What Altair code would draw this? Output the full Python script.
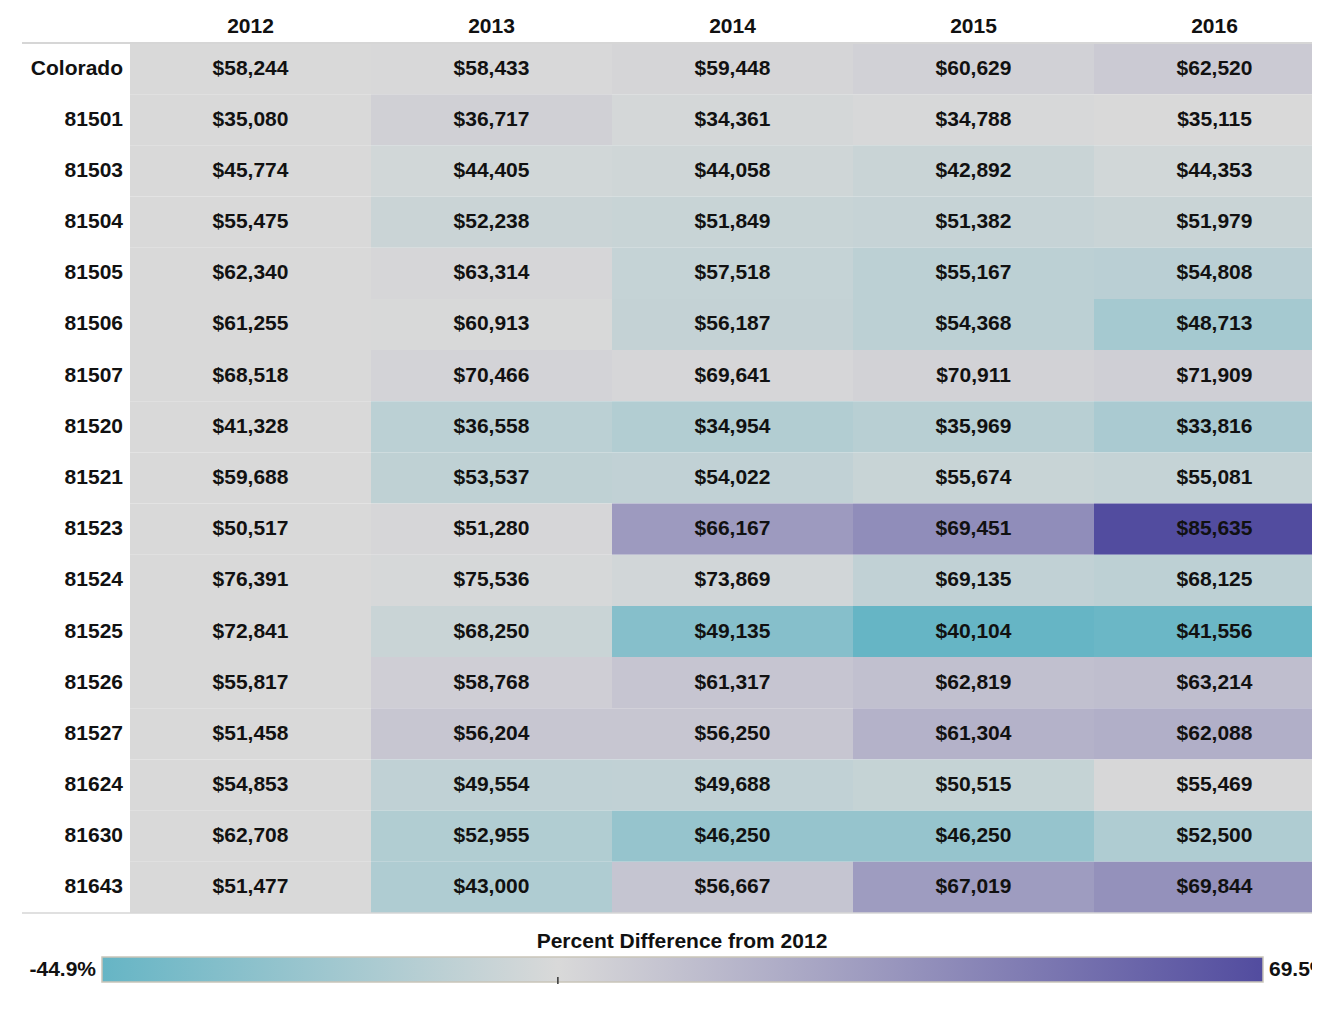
import altair as alt
import pandas as pd

rows = ["Colorado", "81501", "81503", "81504", "81505", "81506", "81507", "81520",
        "81521", "81523", "81524", "81525", "81526", "81527", "81624", "81630", "81643"]
years = ["2012", "2013", "2014", "2015", "2016"]

v2012 = [58244, 35080, 45774, 55475, 62340, 61255, 68518, 41328, 59688, 50517, 76391, 72841, 55817, 51458, 54853, 62708, 51477]
v2013 = [58433, 36717, 44405, 52238, 63314, 60913, 70466, 36558, 53537, 51280, 75536, 68250, 58768, 56204, 49554, 52955, 43000]
v2014 = [59448, 34361, 44058, 51849, 57518, 56187, 69641, 34954, 54022, 66167, 73869, 49135, 61317, 56250, 49688, 46250, 56667]
v2015 = [60629, 34788, 42892, 51382, 55167, 54368, 70911, 35969, 55674, 69451, 69135, 40104, 62819, 61304, 50515, 46250, 67019]
v2016 = [62520, 35115, 44353, 51979, 54808, 48713, 71909, 33816, 55081, 85635, 68125, 41556, 63214, 62088, 55469, 52500, 69844]
series = [v2012, v2013, v2014, v2015, v2016]

recs = []
for ci, (yr, vals) in enumerate(zip(years, series)):
    for r, v, base in zip(rows, vals, v2012):
        recs.append({"row": r, "year": yr, "col": ci, "col_end": ci + 1, "mid": ci + 0.5,
                     "value": v, "label": f"${v:,}", "pct": (v / base - 1) * 100})
df = pd.DataFrame(recs)
df_rows = pd.DataFrame({"row": rows})
df_years = pd.DataFrame({"year": years, "mid": [i + 0.5 for i in range(len(years))]})

lo = float(df["pct"].min())
hi = float(df["pct"].max())
legend_df = pd.DataFrame({"lo": [lo], "hi": [hi], "zero": [0.0],
                          "lo_label": [f"{lo:.1f}%"], "hi_label": [f"{hi:.1f}%"]})

TEAL, GRAY, PURPLE = "#66b5c5", "#d9d9d9", "#524c9f"
FONT = "Liberation Sans"
FS = 21
COL_W, LABEL_W, PLOT_W, PLOT_H = 241, 108, 1290, 870

x_scale = alt.Scale(domain=[-LABEL_W / COL_W, (PLOT_W - LABEL_W) / COL_W], nice=False, zero=False)
y_enc = alt.Y("row:N", sort=rows, scale=alt.Scale(paddingInner=0, paddingOuter=0), axis=None)
color_scale = alt.Scale(domain=[lo, 0, hi], range=[TEAL, GRAY, PURPLE], interpolate="rgb")

rects = alt.Chart(df).mark_rect(clip=True).encode(
    x=alt.X("col:Q", scale=x_scale, axis=None),
    x2="col_end:Q",
    y=y_enc,
    color=alt.Color("pct:Q", scale=color_scale, legend=None),
)
vals = alt.Chart(df).mark_text(font=FONT, fontSize=FS, fontWeight="bold", color="#111",
                               baseline="middle", align="center").encode(
    x=alt.X("mid:Q", scale=x_scale, axis=None), y=y_enc, text="label:N")
rowlabels = alt.Chart(df_rows).mark_text(font=FONT, fontSize=FS, fontWeight="bold", color="#111",
                                         baseline="middle", align="right", dx=-7).encode(
    x=alt.XDatum(0, scale=x_scale, axis=None), y=y_enc, text="row:N")
headers = alt.Chart(df_years).mark_text(font=FONT, fontSize=FS, fontWeight="bold", color="#111",
                                        baseline="middle", align="center").encode(
    x=alt.X("mid:Q", scale=x_scale, axis=None), y=alt.value(-16), text="year:N")
top_rule = alt.Chart(df_rows.head(1)).mark_rule(color="#d6d6d6", strokeWidth=2).encode(
    x=alt.value(0), x2=alt.value(PLOT_W), y=alt.value(0))
bot_rule = alt.Chart(df_rows.head(1)).mark_rule(color="#d6d6d6", strokeWidth=1.5).encode(
    x=alt.value(0), x2=alt.value(PLOT_W), y=alt.value(PLOT_H))

main = alt.layer(rects, vals, rowlabels, headers, top_rule, bot_rule)

mid_off = -lo / (hi - lo)
gradient = alt.LinearGradient(
    gradient="linear",
    stops=[alt.GradientStop(color=TEAL, offset=0),
           alt.GradientStop(color=GRAY, offset=mid_off),
           alt.GradientStop(color=PURPLE, offset=1)],
    x1=0, x2=1, y1=0, y2=0)
leg_scale = alt.Scale(domain=[lo, hi], range=[80, 1241], nice=False, zero=False)

grad = alt.Chart(legend_df).mark_rect(color=gradient, stroke="#c9c5b9", strokeWidth=1.5).encode(
    x=alt.X("lo:Q", scale=leg_scale, axis=None), x2="hi:Q",
    y=alt.value(914), y2=alt.value(939))
lo_txt = alt.Chart(legend_df).mark_text(font=FONT, fontSize=FS, fontWeight="bold", color="#111",
                                        align="right", baseline="middle", dx=-6).encode(
    x=alt.X("lo:Q", scale=leg_scale, axis=None), y=alt.value(926.5), text="lo_label:N")
hi_txt = alt.Chart(legend_df).mark_text(font=FONT, fontSize=FS, fontWeight="bold", color="#111",
                                        align="left", baseline="middle", dx=6).encode(
    x=alt.X("hi:Q", scale=leg_scale, axis=None), y=alt.value(926.5), text="hi_label:N")
tick = alt.Chart(legend_df).mark_rule(color="#333", strokeWidth=1.5).encode(
    x=alt.X("zero:Q", scale=leg_scale, axis=None), y=alt.value(934), y2=alt.value(941))
ltitle = alt.Chart(legend_df).mark_text(font=FONT, fontSize=FS, fontWeight="bold", color="#111",
                                        align="center", baseline="middle",
                                        text="Percent Difference from 2012").encode(
    x=alt.value(660), y=alt.value(899))

legend = alt.layer(grad, lo_txt, hi_txt, tick, ltitle)

chart = alt.layer(main, legend).resolve_scale(x="independent").properties(
    width=PLOT_W, height=PLOT_H,
    autosize=alt.AutoSizeParams(type="none"),
    padding={"left": 14, "top": 35, "right": 0, "bottom": 80},
    background="white",
).configure_view(stroke=None)

chart.save("out.html", embed_options={"renderer": "svg", "actions": False})
